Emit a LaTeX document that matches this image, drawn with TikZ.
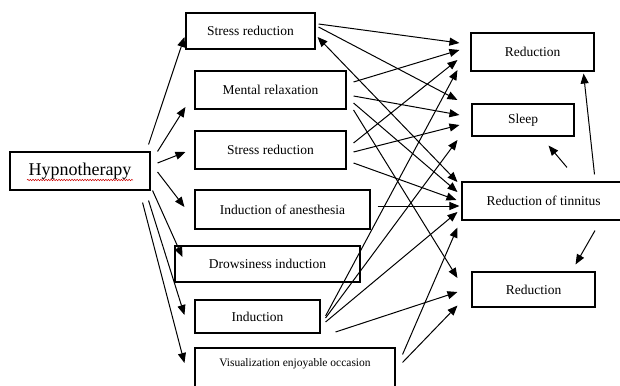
\documentclass[tikz,border=0pt]{standalone}
\usepackage{fontspec}
\setmainfont{Liberation Serif}
\usetikzlibrary{arrows.meta,decorations.pathmorphing}

\begin{document}
\begin{tikzpicture}[x=1pt, y=-1pt,
    box/.style={rectangle, draw, line width=1.1pt, inner sep=0pt, font=\fontsize{13.5}{15}\selectfont},
    arr/.style={-{Triangle[length=10pt,width=8pt]}, line width=1pt},
    spell/.style={red!80!black, line width=0.5pt, decorate, decoration={snake, amplitude=0.7pt, segment length=2.6pt}}
]
    \useasboundingbox (0,0) rectangle (620,385);

    \node[box, minimum width=140pt, minimum height=38pt, font=\fontsize{18}{20}\selectfont] (hyp) at (80,171) {Hypnotherapy};
    \node[box, minimum width=129pt, minimum height=36pt] (sra) at (250.5,31) {Stress reduction};
    \node[box, minimum width=151pt, minimum height=38pt] (mrel) at (270.5,90) {Mental relaxation};
    \node[box, minimum width=151pt, minimum height=38pt] (srb) at (270.5,150) {Stress reduction};
    \node[box, minimum width=175pt, minimum height=39pt] (anest) at (282.5,209.5) {Induction of anesthesia};
    \node[box, minimum width=185pt, minimum height=36pt] (drows) at (267.5,264) {Drowsiness induction};
    \node[box, minimum width=125pt, minimum height=33pt] (induc) at (257.5,316.5) {Induction};
    \node[box, minimum width=200pt, minimum height=40pt, text height=9pt, text depth=12pt, font=\fontsize{11.5}{13}\selectfont] (visu) at (295,368) {Visualization enjoyable occasion};

    \node[box, minimum width=123pt, minimum height=38pt] (redtop) at (532.5,52) {Reduction};
    \node[box, minimum width=102pt, minimum height=32pt] (sleep) at (523,120) {Sleep};
    \node[box, minimum width=163pt, minimum height=38pt] (tinn) at (543.5,201) {Reduction of tinnitus};
    \node[box, minimum width=123pt, minimum height=35pt] (redbot) at (533.5,289.5) {Reduction};

    \draw[spell] ([shift={(-53,9)}]hyp.center) -- ([shift={(53,9)}]hyp.center);

    \draw[arr] ([shift={(-2,-7)}]hyp.north east) -- ([shift={(-1,6)}]sra.west);
    \draw[arr] ([shift={(7,0)}]hyp.north east) -- ([shift={(-9,17)}]mrel.west);
    \draw[arr] ([shift={(7,-8)}]hyp.east) -- ([shift={(-9,2)}]srb.west);
    \draw[arr] ([shift={(7,1)}]hyp.east) -- ([shift={(-10,-2.5)}]anest.west);
    \draw[arr] ([shift={(2,0)}]hyp.south east) -- ([shift={(8,-7)}]drows.west);
    \draw[arr] ([shift={(-2,10)}]hyp.south east) -- ([shift={(-10,-1.5)}]induc.west);
    \draw[arr] ([shift={(-8,12)}]hyp.south east) -- ([shift={(-10,-5)}]visu.west);

    \draw[arr] ([shift={(3,-7)}]sra.east) -- ([shift={(-11,-9)}]redtop.west);
    \draw[arr] ([shift={(3,-4)}]sra.east) -- ([shift={(-14,-20)}]sleep.west);
    \draw[arr, {Triangle[length=10pt,width=8pt]}-{Triangle[length=10pt,width=8pt]}] ([shift={(2,6)}]sra.east) -- ([shift={(-4,-19)}]tinn.west);

    \draw[arr] ([shift={(7,-8)}]mrel.east) -- ([shift={(-11,-2)}]redtop.west);
    \draw[arr] ([shift={(7,6)}]mrel.east) -- ([shift={(-12,-5)}]sleep.west);
    \draw[arr] ([shift={(7,13)}]mrel.east) -- ([shift={(-4,-9)}]tinn.west);
    \draw[arr] ([shift={(7,20)}]mrel.east) -- ([shift={(-14,-11.5)}]redbot.west);

    \draw[arr] ([shift={(7,-7)}]srb.east) -- ([shift={(-13,8)}]redtop.west);
    \draw[arr] ([shift={(7,2)}]srb.east) -- ([shift={(-12,5)}]sleep.west);
    \draw[arr] ([shift={(7,13)}]srb.east) -- ([shift={(-5,-1)}]tinn.west);

    \draw[arr] ([shift={(7,-3.5)}]anest.east) -- ([shift={(-2,5)}]tinn.west);

    \draw[arr] ([shift={(5,-0.5)}]induc.east) -- ([shift={(-13,18)}]redtop.west);
    \draw[arr] ([shift={(5,1.5)}]induc.east) -- ([shift={(-14,20)}]sleep.west);
    \draw[arr] ([shift={(5,5.5)}]induc.east) -- ([shift={(-4,11)}]tinn.west);
    \draw[arr] ([shift={(15,15.5)}]induc.east) -- ([shift={(-14,2.5)}]redbot.west);

    \draw[arr] ([shift={(7,7)}]visu.north east) -- ([shift={(-4,7)}]tinn.south west);
    \draw[arr] ([shift={(7,15)}]visu.north east) -- ([shift={(-14,-2)}]redbot.south west);

    \draw[arr] ([shift={(51,-7)}]tinn.north) -- ([shift={(-11,2)}]redtop.south east);
    \draw[arr] ([shift={(23.5,-14)}]tinn.north) -- ([shift={(-26,9)}]sleep.south east);
    \draw[arr] ([shift={(51.5,10)}]tinn.south) -- ([shift={(-20,-7)}]redbot.north east);
\end{tikzpicture}
\end{document}
